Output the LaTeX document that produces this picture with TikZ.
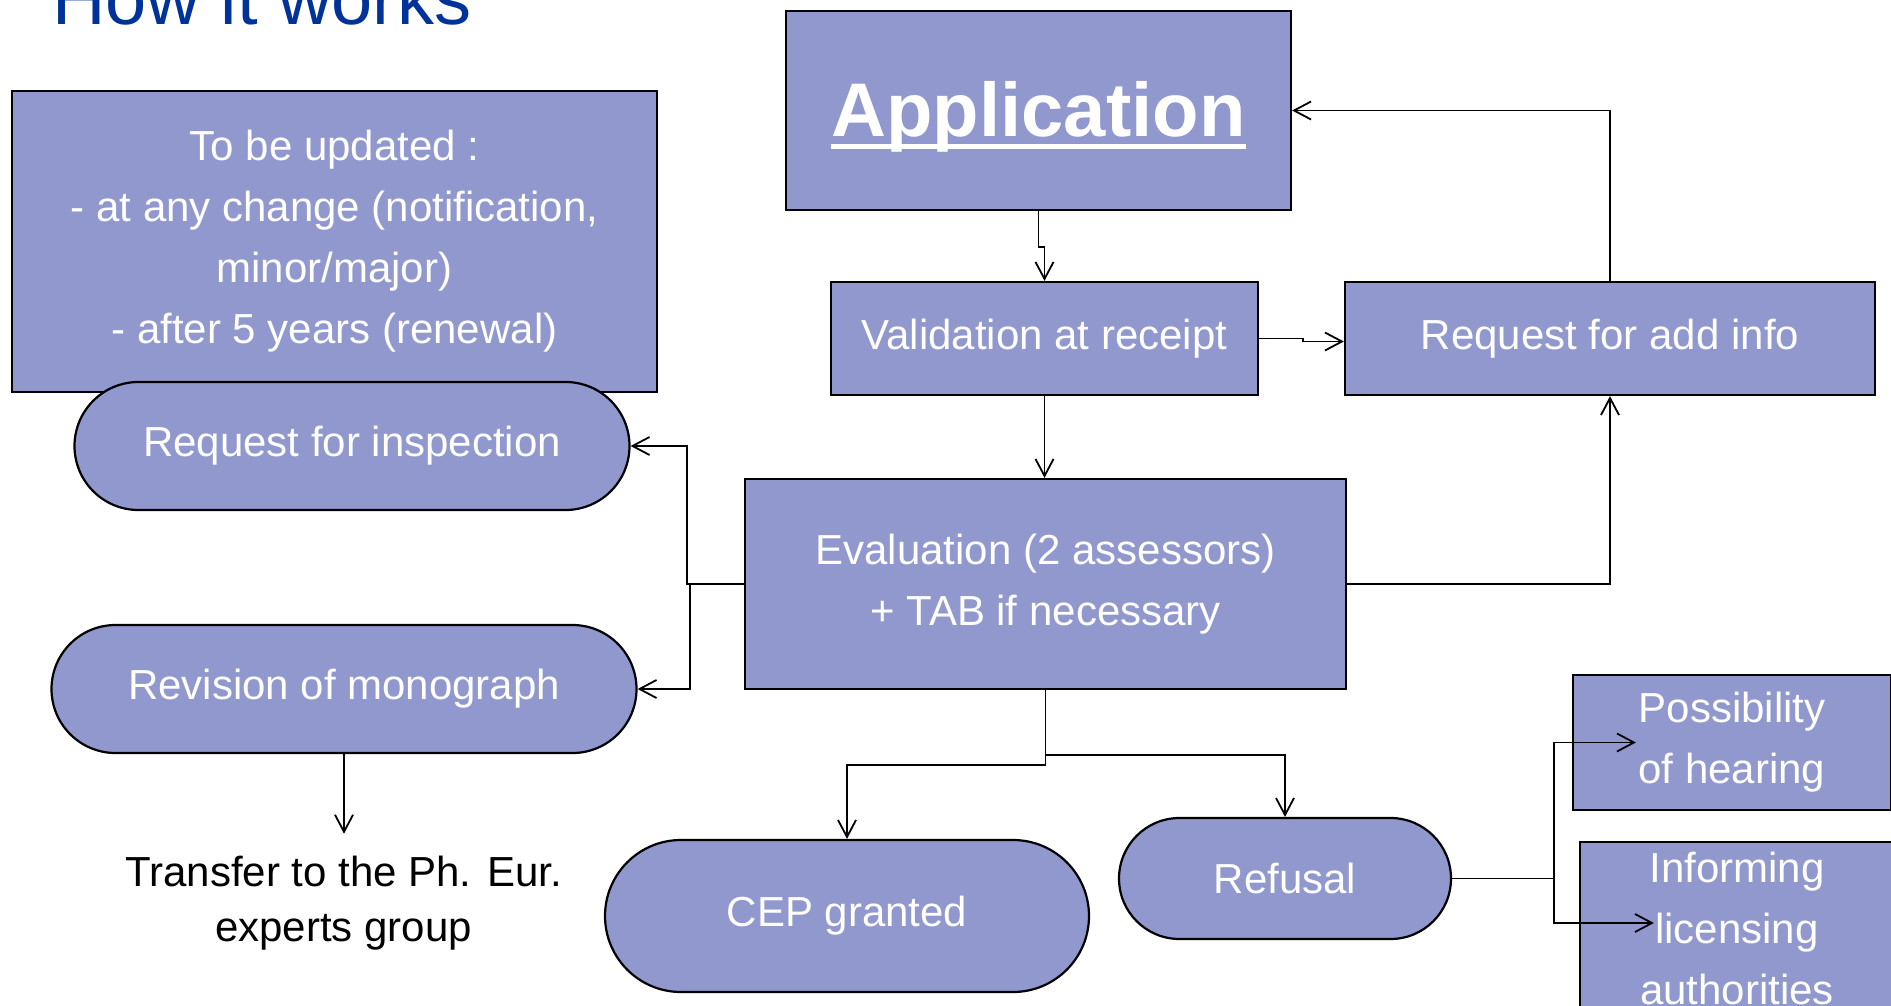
\documentclass[tikz,border=0pt]{standalone}
\usepackage{fontspec}
\setmainfont{Liberation Sans}
\usetikzlibrary{shapes.misc,arrows.meta}
\definecolor{boxfill}{RGB}{144,152,206}
\definecolor{titleblue}{RGB}{0,51,153}

\begin{document}
\begin{tikzpicture}[x=1pt, y=-1pt,
	every node/.style={font=\fontsize{42}{61}\selectfont, align=center},
	box/.style={draw, line width=2.2pt, fill=boxfill, text=white, inner sep=0pt},
	pill/.style={box, rounded rectangle},
	link/.style={line width=1.8pt, -{Straight Barb[length=17pt,width=18pt]}}]
	\clip (0,0) rectangle (1891,1006);
	\node[anchor=base west, inner sep=0pt, text=titleblue, font=\fontsize{74}{80}\selectfont] (title) at (52,25) {How it works};
	\node[box, minimum width=645, minimum height=301] (upd) at (334.5,241.5) {To be updated :\\- at any change (notification,\\minor/major)\\- after 5 years (renewal)};
	\node[pill, minimum width=555, minimum height=128] (insp) at (352,446) {Request for inspection};
	\node[pill, minimum width=585, minimum height=128] (rev) at (344,689) {Revision of monograph};
	\node[inner sep=0pt, font=\fontsize{42}{55}\selectfont] (trans) at (343.5,903) {Transfer to the Ph. Eur.\\experts group};
	\node[box, minimum width=505, minimum height=199] (app) at (1038.5,110.5) {};
	\node[anchor=base, inner sep=0pt, text=white, font=\fontsize{76}{80}\selectfont\bfseries] (apptxt) at (1038.5,137) {Application};
	\draw[white, line width=5pt] ([yshift=-10pt]apptxt.base west) -- ([yshift=-10pt]apptxt.base east);
	\node[box, minimum width=427, minimum height=113] (val) at (1044.5,338.5) {Validation at receipt};
	\node[box, minimum width=530, minimum height=113] (req) at (1610,338.5) {Request for add info};
	\node[box, minimum width=601, minimum height=210] (eval) at (1045.5,584) {Evaluation (2 assessors)\\+ TAB if necessary};
	\node[pill, minimum width=484, minimum height=152] (cep) at (847,916) {CEP granted};
	\node[pill, minimum width=332, minimum height=121] (ref) at (1285,878.5) {Refusal};
	\node[box, minimum width=318, minimum height=135] (poss) at (1732,742.5) {Possibility\\of hearing};
	\node[box, minimum width=314, minimum height=172] (inf) at (1737,928) {Informing\\licensing\\authorities};
	\draw[link] (app.south) -- ++(0,36) -| (val.north);
	\draw[link] (val.east) -- ++(44,0) |- ([yshift=-3pt]req.west);
	\draw[link] (req.north) |- (app.east);
	\draw[link] (val.south) -- (val.south |- eval.north);
	\draw[link] (eval.east) -| (req.south);
	\draw[link] (eval.west) -- ++(-57,0) |- (insp.east);
	\draw[link] (eval.west) -- ++(-54,0) |- (rev.east);
	\draw[link, shorten >=22pt] (rev.south) -- (rev.south |- trans.north);
	\draw[link] (eval.south) -- ++(0,75) -| (cep.north);
	\draw[link] (eval.south) -- ++(0,65) -| (ref.north);
	\draw[link] (ref.east) -- ++(102,0) |- ([xshift=64pt]poss.west);
	\draw[link] (ref.east) -- ++(102,0) |- ([xshift=75pt,yshift=5pt]inf.west);
\end{tikzpicture}
\end{document}
